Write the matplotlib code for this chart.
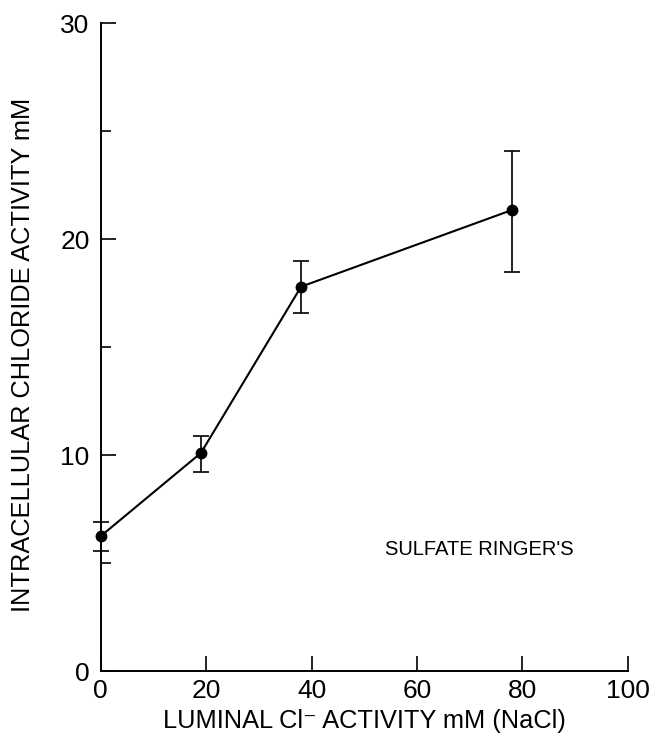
import matplotlib
matplotlib.use('Agg')
import matplotlib.pyplot as plt
from matplotlib.ticker import MultipleLocator

plt.rcParams['font.family'] = ['Liberation Sans', 'DejaVu Sans']

# luminal Cl- activity (mM) vs intracellular chloride activity (mM)
luminal = [0, 19, 38, 78]
intracellular = [6.25, 10.1, 17.8, 21.35]
err_low = [5.55, 9.2, 16.6, 18.5]
err_high = [6.9, 10.9, 19.0, 24.1]

x_ticks = [0, 20, 40, 60, 80, 100]
y_ticks = [0, 10, 20, 30]

lower = [v - lo for v, lo in zip(intracellular, err_low)]
upper = [hi - v for v, hi in zip(intracellular, err_high)]

fig = plt.figure(figsize=(6.5, 7.49), dpi=100)
ax = fig.add_axes([0.155, 0.104, 0.811, 0.865])

ax.errorbar(luminal, intracellular, yerr=[lower, upper], color='black',
            marker='o', markersize=7.5, linewidth=1.5, elinewidth=1.2,
            capsize=6, capthick=1.2, clip_on=False, zorder=3)

ax.set_xlim(0, 100)
ax.set_ylim(0, 30)
ax.set_xticks(x_ticks)
ax.set_yticks(y_ticks)
ax.yaxis.set_minor_locator(MultipleLocator(5))

for side in ['top', 'right']:
    ax.spines[side].set_visible(False)
for side in ['left', 'bottom']:
    ax.spines[side].set_linewidth(1.4)

ax.tick_params(axis='both', which='major', direction='in', length=11,
               width=1.2, labelsize=19)
ax.tick_params(axis='y', which='minor', direction='in', length=7, width=1.2)
ax.tick_params(axis='y', which='major', pad=8)
ax.tick_params(axis='x', which='major', pad=6)

ax.set_xlabel('LUMINAL Cl\u207b ACTIVITY mM (NaCl)', fontsize=18.3, labelpad=4)
ax.set_ylabel('INTRACELLULAR CHLORIDE ACTIVITY mM', fontsize=18.3)
ax.yaxis.set_label_coords(-0.124, 0.488)

ax.text(0.539, 0.187, "SULFATE RINGER'S", transform=ax.transAxes,
        fontsize=14.5, ha='left', va='center')

fig.savefig('out.png', dpi=100)
